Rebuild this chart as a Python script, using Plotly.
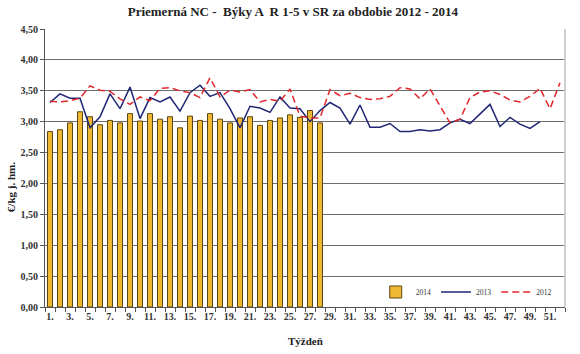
import plotly.graph_objects as go

weeks = list(range(1, 53))
tick_weeks = list(range(1, 53, 2))
tick_labels = [f"{w}." for w in tick_weeks]

y2014 = [2.84, 2.87, 2.98, 3.16, 3.08, 2.95, 3.02, 2.98, 3.13, 3.01,
         3.13, 3.04, 3.08, 2.90, 3.09, 3.02, 3.13, 3.04, 2.98, 3.06,
         3.08, 2.94, 3.02, 3.06, 3.11, 3.07, 3.18, 2.98]

y2013 = [3.31, 3.45, 3.38, 3.38, 2.90, 3.08, 3.45, 3.21, 3.56, 3.05,
         3.39, 3.32, 3.40, 3.17, 3.47, 3.59, 3.41, 3.47, 3.21, 2.90,
         3.25, 3.22, 3.15, 3.40, 3.22, 3.21, 3.00, 3.18, 3.31, 3.22,
         2.96, 3.27, 2.91, 2.91, 2.97, 2.84, 2.84, 2.87, 2.85, 2.87,
         2.98, 3.04, 2.97, 3.12, 3.28, 2.92, 3.07, 2.96, 2.89, 3.00]

y2012 = [3.33, 3.32, 3.34, 3.38, 3.58, 3.51, 3.49, 3.37, 3.28, 3.40,
         3.34, 3.54, 3.55, 3.50, 3.47, 3.39, 3.71, 3.40, 3.51, 3.48,
         3.52, 3.32, 3.36, 3.33, 3.53, 3.09, 3.06, 3.06, 3.52, 3.42,
         3.46, 3.39, 3.36, 3.37, 3.41, 3.55, 3.53, 3.37, 3.53, 3.25,
         2.98, 3.04, 3.39, 3.48, 3.50, 3.44, 3.35, 3.32, 3.41, 3.54,
         3.21, 3.63]

serif = "Liberation Serif"

fig = go.Figure()
fig.add_trace(go.Bar(
    x=weeks[:len(y2014)], y=y2014, name="2014",
    marker=dict(color="#EDB935", line=dict(color="#5e4510", width=1)),
))
fig.add_trace(go.Scatter(
    x=weeks[:len(y2013)], y=y2013, name="2013", mode="lines",
    line=dict(color="#1f2675", width=1.5),
))
fig.add_trace(go.Scatter(
    x=weeks[:len(y2012)], y=y2012, name="2012", mode="lines",
    line=dict(color="#e0282c", width=1.5, dash="7px,4px"),
))

fig.update_layout(
    width=580, height=354,
    margin=dict(l=45, r=15, t=29, b=47),
    paper_bgcolor="white", plot_bgcolor="white",
    separators=",.",
    bargap=0.5,
    showlegend=True,
    legend=dict(
        orientation="h", x=0.636, y=0.054, xanchor="left", yanchor="middle",
        font=dict(family=serif, size=7.5, color="#333"),
        bgcolor="rgba(0,0,0,0)", itemwidth=30, tracegroupgap=0,
    ),
    title=dict(
        text="<b>Priemerná NC -  Býky A  R 1-5 v SR za obdobie 2012 - 2014</b>",
        x=0.505, xanchor="center", y=0.968, yanchor="middle",
        font=dict(family=serif, size=13, color="#222"),
    ),
    xaxis=dict(
        range=[0.5, 52.5], tickmode="array", tickvals=tick_weeks, ticktext=tick_labels,
        ticks="", showgrid=False, showline=True, linecolor="#555", linewidth=1,
        tickfont=dict(family=serif, size=10, color="#333", weight="bold"),
        minor=dict(tickmode="linear", tick0=0.5, dtick=1, ticks="outside",
                   ticklen=4, tickcolor="#555", showgrid=False),
        zeroline=False,
    ),
    yaxis=dict(
        range=[0, 4.5], dtick=0.5, tickformat=".2f",
        showgrid=True, gridcolor="#6e6e6e", gridwidth=1,
        showline=True, linecolor="#555", linewidth=1,
        ticks="outside", ticklen=4, tickcolor="#555",
        tickfont=dict(family=serif, size=10, color="#333", weight="bold"),
        zeroline=False,
    ),
    annotations=[
        dict(text="<b>€/kg j. hm.</b>", xref="paper", yref="paper",
             x=-0.064, y=0.43, xanchor="center", yanchor="middle",
             textangle=-90, showarrow=False,
             font=dict(family=serif, size=11, color="#222")),
        dict(text="<b>Týždeň</b>", xref="paper", yref="paper",
             x=0.5, y=-0.095, xanchor="center", yanchor="top",
             showarrow=False, font=dict(family=serif, size=11, color="#222")),
    ],
    shapes=[
        dict(type="line", xref="paper", yref="paper", x0=1, x1=1, y0=0, y1=1,
             line=dict(color="#cfcfcf", width=2)),
    ],
)

fig.write_html("out.html")
